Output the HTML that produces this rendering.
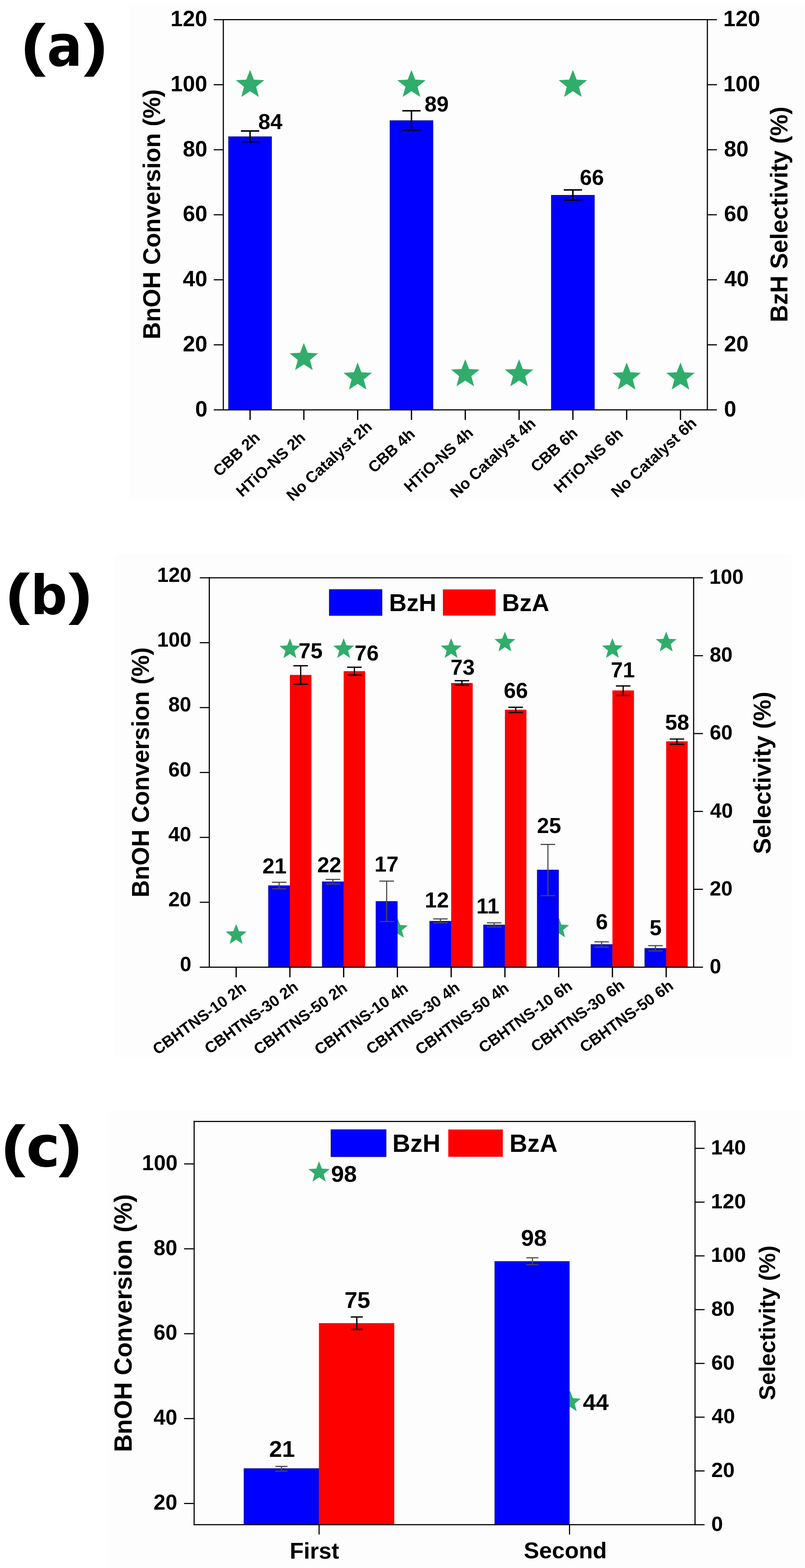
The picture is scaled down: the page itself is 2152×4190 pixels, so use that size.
<!DOCTYPE html>
<html><head><meta charset="utf-8"><title>Figure</title>
<style>html,body{margin:0;padding:0;background:#fff;} svg{display:block;}</style>
</head><body>
<svg width="2152" height="4190" viewBox="0 0 2152 4190">
<rect x="345" y="8" width="1805" height="1329" fill="#fdfdfd"/>
<rect x="307.5" y="1480" width="1808.5" height="1345" fill="#fdfdfd"/>
<rect x="287" y="2967" width="1865" height="1223" fill="#fdfdfd"/>
<polygon points="668.5,186.77 678.58,212.79 706.45,214.34 684.82,231.97 691.95,258.95 668.5,243.82 645.05,258.95 652.18,231.97 630.55,214.34 658.42,212.79" fill="#30ad6b"/>
<polygon points="812.33,916.59 822.41,942.61 850.28,944.16 828.65,961.79 835.78,988.77 812.33,973.64 788.88,988.77 796.01,961.79 774.38,944.16 802.25,942.61" fill="#30ad6b"/>
<polygon points="956.16,968.72 966.24,994.74 994.11,996.29 972.48,1013.92 979.61,1040.9 956.16,1025.77 932.71,1040.9 939.84,1013.92 918.21,996.29 946.08,994.74" fill="#30ad6b"/>
<polygon points="1099.99,186.77 1110.07,212.79 1137.94,214.34 1116.31,231.97 1123.44,258.95 1099.99,243.82 1076.54,258.95 1083.67,231.97 1062.04,214.34 1089.91,212.79" fill="#30ad6b"/>
<polygon points="1243.82,960.03 1253.9,986.05 1281.77,987.6 1260.14,1005.23 1267.27,1032.21 1243.82,1017.09 1220.37,1032.21 1227.5,1005.23 1205.87,987.6 1233.74,986.05" fill="#30ad6b"/>
<polygon points="1387.65,960.03 1397.73,986.05 1425.6,987.6 1403.97,1005.23 1411.1,1032.21 1387.65,1017.09 1364.2,1032.21 1371.33,1005.23 1349.7,987.6 1377.57,986.05" fill="#30ad6b"/>
<polygon points="1531.48,186.77 1541.56,212.79 1569.43,214.34 1547.8,231.97 1554.93,258.95 1531.48,243.82 1508.03,258.95 1515.16,231.97 1493.53,214.34 1521.4,212.79" fill="#30ad6b"/>
<polygon points="1675.31,968.72 1685.39,994.74 1713.26,996.29 1691.63,1013.92 1698.76,1040.9 1675.31,1025.77 1651.86,1040.9 1658.99,1013.92 1637.36,996.29 1665.23,994.74" fill="#30ad6b"/>
<polygon points="1819.14,968.72 1829.22,994.74 1857.09,996.29 1835.46,1013.92 1842.59,1040.9 1819.14,1025.77 1795.69,1040.9 1802.82,1013.92 1781.19,996.29 1809.06,994.74" fill="#30ad6b"/>
<rect x="610.75" y="365" width="115.5" height="730.2" fill="#0000ff" stroke="#22225a" stroke-width="1"/>
<rect x="1042.24" y="322" width="115.5" height="773.2" fill="#0000ff" stroke="#22225a" stroke-width="1"/>
<rect x="1473.73" y="521.5" width="115.5" height="573.7" fill="#0000ff" stroke="#22225a" stroke-width="1"/>
<line x1="668.5" y1="350" x2="668.5" y2="379" stroke="#000" stroke-width="4"/>
<line x1="644.1" y1="350" x2="692.9" y2="350" stroke="#000" stroke-width="4"/>
<line x1="644.1" y1="379" x2="692.9" y2="379" stroke="#000" stroke-width="4"/>
<line x1="1099.99" y1="296" x2="1099.99" y2="347.4" stroke="#000" stroke-width="4"/>
<line x1="1075.59" y1="296" x2="1124.39" y2="296" stroke="#000" stroke-width="4"/>
<line x1="1075.59" y1="347.4" x2="1124.39" y2="347.4" stroke="#000" stroke-width="4"/>
<line x1="1531.48" y1="507.5" x2="1531.48" y2="534.5" stroke="#000" stroke-width="4"/>
<line x1="1507.08" y1="507.5" x2="1555.88" y2="507.5" stroke="#000" stroke-width="4"/>
<line x1="1507.08" y1="534.5" x2="1555.88" y2="534.5" stroke="#000" stroke-width="4"/>
<text x="690.5" y="345" font-size="58" font-family="Liberation Sans, Arial, sans-serif" font-weight="bold">84</text>
<text x="1135.1" y="297.7" font-size="58" font-family="Liberation Sans, Arial, sans-serif" font-weight="bold">89</text>
<text x="1550" y="494" font-size="58" font-family="Liberation Sans, Arial, sans-serif" font-weight="bold">66</text>
<line x1="597" y1="51.1" x2="597" y2="1096.7" stroke="#000" stroke-width="3"/>
<line x1="1891" y1="51.1" x2="1891" y2="1096.7" stroke="#000" stroke-width="3"/>
<line x1="595.5" y1="52.6" x2="1892.5" y2="52.6" stroke="#000" stroke-width="3"/>
<line x1="595.5" y1="1095.2" x2="1892.5" y2="1095.2" stroke="#000" stroke-width="3"/>
<line x1="571.3" y1="1095.2" x2="597" y2="1095.2" stroke="#000" stroke-width="3"/>
<line x1="1891" y1="1095.2" x2="1916.5" y2="1095.2" stroke="#000" stroke-width="3"/>
<text x="521.7" y="1112.7" font-size="59" font-family="Liberation Sans, Arial, sans-serif" font-weight="bold">0</text>
<text x="1935.5" y="1112.7" font-size="59" font-family="Liberation Sans, Arial, sans-serif" font-weight="bold">0</text>
<line x1="571.3" y1="921.43" x2="597" y2="921.43" stroke="#000" stroke-width="3"/>
<line x1="1891" y1="921.43" x2="1916.5" y2="921.43" stroke="#000" stroke-width="3"/>
<text x="488.7" y="938.93" font-size="59" font-family="Liberation Sans, Arial, sans-serif" font-weight="bold">20</text>
<text x="1935.5" y="938.93" font-size="59" font-family="Liberation Sans, Arial, sans-serif" font-weight="bold">20</text>
<line x1="571.3" y1="747.67" x2="597" y2="747.67" stroke="#000" stroke-width="3"/>
<line x1="1891" y1="747.67" x2="1916.5" y2="747.67" stroke="#000" stroke-width="3"/>
<text x="488.7" y="765.17" font-size="59" font-family="Liberation Sans, Arial, sans-serif" font-weight="bold">40</text>
<text x="1936.5" y="765.17" font-size="59" font-family="Liberation Sans, Arial, sans-serif" font-weight="bold">40</text>
<line x1="571.3" y1="573.9" x2="597" y2="573.9" stroke="#000" stroke-width="3"/>
<line x1="1891" y1="573.9" x2="1916.5" y2="573.9" stroke="#000" stroke-width="3"/>
<text x="488.7" y="591.4" font-size="59" font-family="Liberation Sans, Arial, sans-serif" font-weight="bold">60</text>
<text x="1935.5" y="591.4" font-size="59" font-family="Liberation Sans, Arial, sans-serif" font-weight="bold">60</text>
<line x1="571.3" y1="400.13" x2="597" y2="400.13" stroke="#000" stroke-width="3"/>
<line x1="1891" y1="400.13" x2="1916.5" y2="400.13" stroke="#000" stroke-width="3"/>
<text x="488.7" y="417.63" font-size="59" font-family="Liberation Sans, Arial, sans-serif" font-weight="bold">80</text>
<text x="1935.5" y="417.63" font-size="59" font-family="Liberation Sans, Arial, sans-serif" font-weight="bold">80</text>
<line x1="571.3" y1="226.37" x2="597" y2="226.37" stroke="#000" stroke-width="3"/>
<line x1="1891" y1="226.37" x2="1916.5" y2="226.37" stroke="#000" stroke-width="3"/>
<text x="455.7" y="243.87" font-size="59" font-family="Liberation Sans, Arial, sans-serif" font-weight="bold">100</text>
<text x="1933.5" y="243.87" font-size="59" font-family="Liberation Sans, Arial, sans-serif" font-weight="bold">100</text>
<line x1="571.3" y1="52.6" x2="597" y2="52.6" stroke="#000" stroke-width="3"/>
<line x1="1891" y1="52.6" x2="1916.5" y2="52.6" stroke="#000" stroke-width="3"/>
<text x="455.7" y="70.1" font-size="59" font-family="Liberation Sans, Arial, sans-serif" font-weight="bold">120</text>
<text x="1933.5" y="70.1" font-size="59" font-family="Liberation Sans, Arial, sans-serif" font-weight="bold">120</text>
<line x1="668.5" y1="1095.2" x2="668.5" y2="1122" stroke="#000" stroke-width="3.4"/>
<line x1="812.33" y1="1095.2" x2="812.33" y2="1122" stroke="#000" stroke-width="3.4"/>
<line x1="956.16" y1="1095.2" x2="956.16" y2="1122" stroke="#000" stroke-width="3.4"/>
<line x1="1099.99" y1="1095.2" x2="1099.99" y2="1122" stroke="#000" stroke-width="3.4"/>
<line x1="1243.82" y1="1095.2" x2="1243.82" y2="1122" stroke="#000" stroke-width="3.4"/>
<line x1="1387.65" y1="1095.2" x2="1387.65" y2="1122" stroke="#000" stroke-width="3.4"/>
<line x1="1531.48" y1="1095.2" x2="1531.48" y2="1122" stroke="#000" stroke-width="3.4"/>
<line x1="1675.31" y1="1095.2" x2="1675.31" y2="1122" stroke="#000" stroke-width="3.4"/>
<line x1="1819.14" y1="1095.2" x2="1819.14" y2="1122" stroke="#000" stroke-width="3.4"/>
<text transform="translate(697.72,1172.79) rotate(-42.5)" text-anchor="end" font-size="42" font-family="Liberation Sans, Arial, sans-serif" font-weight="bold">CBB 2h</text>
<text transform="translate(819.05,1172.85) rotate(-42.5)" text-anchor="end" font-size="42" font-family="Liberation Sans, Arial, sans-serif" font-weight="bold">HTiO-NS 2h</text>
<text transform="translate(997.08,1143.84) rotate(-42.5)" text-anchor="end" font-size="42" font-family="Liberation Sans, Arial, sans-serif" font-weight="bold">No Catalyst 2h</text>
<text transform="translate(1112.02,1163.29) rotate(-42.5)" text-anchor="end" font-size="42" font-family="Liberation Sans, Arial, sans-serif" font-weight="bold">CBB 4h</text>
<text transform="translate(1267.75,1160.35) rotate(-42.5)" text-anchor="end" font-size="42" font-family="Liberation Sans, Arial, sans-serif" font-weight="bold">HTiO-NS 4h</text>
<text transform="translate(1434.58,1135.34) rotate(-42.5)" text-anchor="end" font-size="42" font-family="Liberation Sans, Arial, sans-serif" font-weight="bold">No Catalyst 4h</text>
<text transform="translate(1546.92,1161.09) rotate(-42.5)" text-anchor="end" font-size="42" font-family="Liberation Sans, Arial, sans-serif" font-weight="bold">CBB 6h</text>
<text transform="translate(1668.25,1162.45) rotate(-42.5)" text-anchor="end" font-size="42" font-family="Liberation Sans, Arial, sans-serif" font-weight="bold">HTiO-NS 6h</text>
<text transform="translate(1864.78,1134.44) rotate(-42.5)" text-anchor="end" font-size="42" font-family="Liberation Sans, Arial, sans-serif" font-weight="bold">No Catalyst 6h</text>
<text transform="translate(427.6,906.8) rotate(-90)" font-size="64" font-family="Liberation Sans, Arial, sans-serif" font-weight="bold">BnOH Conversion (%)</text>
<text transform="translate(2105.4,860.9) rotate(-90)" font-size="64" font-family="Liberation Sans, Arial, sans-serif" font-weight="bold">BzH Selectivity (%)</text>
<text transform="translate(56.66,172.52) scale(0.9839,0.7733)" font-size="200" font-family="Liberation Sans, Arial, sans-serif" font-weight="bold">(</text>
<text transform="translate(125.16,175.51) scale(0.7045,0.7635)" font-size="200" font-family="DejaVu Sans, sans-serif" font-weight="bold">a</text>
<text transform="translate(223.7,172.52) scale(0.9491,0.7733)" font-size="200" font-family="Liberation Sans, Arial, sans-serif" font-weight="bold">)</text>
<polygon points="631.3,2469.2 638.71,2488.31 659.17,2489.45 643.28,2502.39 648.52,2522.2 631.3,2511.1 614.08,2522.2 619.32,2502.39 603.43,2489.45 623.89,2488.31" fill="#30ad6b"/>
<polygon points="775,1705.7 782.41,1724.81 802.87,1725.95 786.98,1738.89 792.22,1758.7 775,1747.6 757.78,1758.7 763.02,1738.89 747.13,1725.95 767.59,1724.81" fill="#30ad6b"/>
<polygon points="918.7,1705.2 926.11,1724.31 946.57,1725.45 930.68,1738.39 935.92,1758.2 918.7,1747.1 901.48,1758.2 906.72,1738.39 890.83,1725.45 911.29,1724.31" fill="#30ad6b"/>
<polygon points="1062.4,2452.7 1069.81,2471.81 1090.27,2472.95 1074.38,2485.89 1079.62,2505.7 1062.4,2494.6 1045.18,2505.7 1050.42,2485.89 1034.53,2472.95 1054.99,2471.81" fill="#30ad6b"/>
<polygon points="1206.1,1705.2 1213.51,1724.31 1233.97,1725.45 1218.08,1738.39 1223.32,1758.2 1206.1,1747.1 1188.88,1758.2 1194.12,1738.39 1178.23,1725.45 1198.69,1724.31" fill="#30ad6b"/>
<polygon points="1349.8,1687.7 1357.21,1706.81 1377.67,1707.95 1361.78,1720.89 1367.02,1740.7 1349.8,1729.6 1332.58,1740.7 1337.82,1720.89 1321.93,1707.95 1342.39,1706.81" fill="#30ad6b"/>
<polygon points="1493.5,2451.7 1500.91,2470.81 1521.37,2471.95 1505.48,2484.89 1510.72,2504.7 1493.5,2493.6 1476.28,2504.7 1481.52,2484.89 1465.63,2471.95 1486.09,2470.81" fill="#30ad6b"/>
<polygon points="1637.2,1704.9 1644.61,1724.01 1665.07,1725.15 1649.18,1738.09 1654.42,1757.9 1637.2,1746.8 1619.98,1757.9 1625.22,1738.09 1609.33,1725.15 1629.79,1724.01" fill="#30ad6b"/>
<polygon points="1780.9,1687.8 1788.31,1706.91 1808.77,1708.05 1792.88,1720.99 1798.12,1740.8 1780.9,1729.7 1763.68,1740.8 1768.92,1720.99 1753.03,1708.05 1773.49,1706.91" fill="#30ad6b"/>
<rect x="717.5" y="2366.5" width="57.5" height="218" fill="#0000ff" stroke="#22225a" stroke-width="1"/>
<rect x="861.2" y="2356" width="57.5" height="228.5" fill="#0000ff" stroke="#22225a" stroke-width="1"/>
<rect x="1004.9" y="2408.5" width="57.5" height="176" fill="#0000ff" stroke="#22225a" stroke-width="1"/>
<rect x="1148.6" y="2461.4" width="57.5" height="123.1" fill="#0000ff" stroke="#22225a" stroke-width="1"/>
<rect x="1292.3" y="2471.3" width="57.5" height="113.2" fill="#0000ff" stroke="#22225a" stroke-width="1"/>
<rect x="1436" y="2324.6" width="57.5" height="259.9" fill="#0000ff" stroke="#22225a" stroke-width="1"/>
<rect x="1579.7" y="2523.7" width="57.5" height="60.8" fill="#0000ff" stroke="#22225a" stroke-width="1"/>
<rect x="1723.4" y="2534" width="57.5" height="50.5" fill="#0000ff" stroke="#22225a" stroke-width="1"/>
<rect x="775" y="1803.5" width="57.5" height="781" fill="#ff0000"/>
<rect x="918.7" y="1793.5" width="57.5" height="791" fill="#ff0000"/>
<rect x="1206.1" y="1825" width="57.5" height="759.5" fill="#ff0000"/>
<rect x="1349.8" y="1896.5" width="57.5" height="688" fill="#ff0000"/>
<rect x="1637.2" y="1845" width="57.5" height="739.5" fill="#ff0000"/>
<rect x="1780.9" y="1981" width="57.5" height="603.5" fill="#ff0000"/>
<line x1="746.25" y1="2357.5" x2="746.25" y2="2375" stroke="#4a4a4a" stroke-width="3"/>
<line x1="726.85" y1="2357.5" x2="765.65" y2="2357.5" stroke="#4a4a4a" stroke-width="3"/>
<line x1="726.85" y1="2375" x2="765.65" y2="2375" stroke="#4a4a4a" stroke-width="3"/>
<line x1="889.95" y1="2350" x2="889.95" y2="2362.5" stroke="#4a4a4a" stroke-width="3"/>
<line x1="870.55" y1="2350" x2="909.35" y2="2350" stroke="#4a4a4a" stroke-width="3"/>
<line x1="870.55" y1="2362.5" x2="909.35" y2="2362.5" stroke="#4a4a4a" stroke-width="3"/>
<line x1="1033.65" y1="2354.5" x2="1033.65" y2="2462.5" stroke="#4a4a4a" stroke-width="3"/>
<line x1="1014.25" y1="2354.5" x2="1053.05" y2="2354.5" stroke="#4a4a4a" stroke-width="3"/>
<line x1="1014.25" y1="2462.5" x2="1053.05" y2="2462.5" stroke="#4a4a4a" stroke-width="3"/>
<line x1="1177.35" y1="2455.6" x2="1177.35" y2="2466" stroke="#4a4a4a" stroke-width="3"/>
<line x1="1157.95" y1="2455.6" x2="1196.75" y2="2455.6" stroke="#4a4a4a" stroke-width="3"/>
<line x1="1157.95" y1="2466" x2="1196.75" y2="2466" stroke="#4a4a4a" stroke-width="3"/>
<line x1="1321.05" y1="2466" x2="1321.05" y2="2477" stroke="#4a4a4a" stroke-width="3"/>
<line x1="1301.65" y1="2466" x2="1340.45" y2="2466" stroke="#4a4a4a" stroke-width="3"/>
<line x1="1301.65" y1="2477" x2="1340.45" y2="2477" stroke="#4a4a4a" stroke-width="3"/>
<line x1="1464.75" y1="2256.5" x2="1464.75" y2="2393.3" stroke="#4a4a4a" stroke-width="3"/>
<line x1="1445.35" y1="2256.5" x2="1484.15" y2="2256.5" stroke="#4a4a4a" stroke-width="3"/>
<line x1="1445.35" y1="2393.3" x2="1484.15" y2="2393.3" stroke="#4a4a4a" stroke-width="3"/>
<line x1="1608.45" y1="2516.7" x2="1608.45" y2="2531" stroke="#4a4a4a" stroke-width="3"/>
<line x1="1589.05" y1="2516.7" x2="1627.85" y2="2516.7" stroke="#4a4a4a" stroke-width="3"/>
<line x1="1589.05" y1="2531" x2="1627.85" y2="2531" stroke="#4a4a4a" stroke-width="3"/>
<line x1="1752.15" y1="2527" x2="1752.15" y2="2541" stroke="#4a4a4a" stroke-width="3"/>
<line x1="1732.75" y1="2527" x2="1771.55" y2="2527" stroke="#4a4a4a" stroke-width="3"/>
<line x1="1732.75" y1="2541" x2="1771.55" y2="2541" stroke="#4a4a4a" stroke-width="3"/>
<line x1="803.75" y1="1779" x2="803.75" y2="1828.5" stroke="#000" stroke-width="3.3"/>
<line x1="784.35" y1="1779" x2="823.15" y2="1779" stroke="#000" stroke-width="3.3"/>
<line x1="784.35" y1="1828.5" x2="823.15" y2="1828.5" stroke="#000" stroke-width="3.3"/>
<line x1="947.45" y1="1783" x2="947.45" y2="1804" stroke="#000" stroke-width="3.3"/>
<line x1="928.05" y1="1783" x2="966.85" y2="1783" stroke="#000" stroke-width="3.3"/>
<line x1="928.05" y1="1804" x2="966.85" y2="1804" stroke="#000" stroke-width="3.3"/>
<line x1="1234.85" y1="1819" x2="1234.85" y2="1831" stroke="#000" stroke-width="3.3"/>
<line x1="1215.45" y1="1819" x2="1254.25" y2="1819" stroke="#000" stroke-width="3.3"/>
<line x1="1215.45" y1="1831" x2="1254.25" y2="1831" stroke="#000" stroke-width="3.3"/>
<line x1="1378.55" y1="1890" x2="1378.55" y2="1904" stroke="#000" stroke-width="3.3"/>
<line x1="1359.15" y1="1890" x2="1397.95" y2="1890" stroke="#000" stroke-width="3.3"/>
<line x1="1359.15" y1="1904" x2="1397.95" y2="1904" stroke="#000" stroke-width="3.3"/>
<line x1="1665.95" y1="1833" x2="1665.95" y2="1858.4" stroke="#000" stroke-width="3.3"/>
<line x1="1646.55" y1="1833" x2="1685.35" y2="1833" stroke="#000" stroke-width="3.3"/>
<line x1="1646.55" y1="1858.4" x2="1685.35" y2="1858.4" stroke="#000" stroke-width="3.3"/>
<line x1="1809.65" y1="1974.8" x2="1809.65" y2="1989" stroke="#000" stroke-width="3.3"/>
<line x1="1790.25" y1="1974.8" x2="1829.05" y2="1974.8" stroke="#000" stroke-width="3.3"/>
<line x1="1790.25" y1="1989" x2="1829.05" y2="1989" stroke="#000" stroke-width="3.3"/>
<text x="701.5" y="2334" font-size="58" font-family="Liberation Sans, Arial, sans-serif" font-weight="bold">21</text>
<text x="848" y="2331" font-size="58" font-family="Liberation Sans, Arial, sans-serif" font-weight="bold">22</text>
<text x="1001" y="2329" font-size="58" font-family="Liberation Sans, Arial, sans-serif" font-weight="bold">17</text>
<text x="1135.6" y="2424.7" font-size="58" font-family="Liberation Sans, Arial, sans-serif" font-weight="bold">12</text>
<text x="1273.5" y="2441" font-size="58" font-family="Liberation Sans, Arial, sans-serif" font-weight="bold">11</text>
<text x="1435.6" y="2226.4" font-size="58" font-family="Liberation Sans, Arial, sans-serif" font-weight="bold">25</text>
<text x="1592.8" y="2482.5" font-size="58" font-family="Liberation Sans, Arial, sans-serif" font-weight="bold">6</text>
<text x="1736.5" y="2499.4" font-size="58" font-family="Liberation Sans, Arial, sans-serif" font-weight="bold">5</text>
<text x="798" y="1759" font-size="58" font-family="Liberation Sans, Arial, sans-serif" font-weight="bold">75</text>
<text x="948" y="1765" font-size="58" font-family="Liberation Sans, Arial, sans-serif" font-weight="bold">76</text>
<text x="1204.5" y="1802.5" font-size="58" font-family="Liberation Sans, Arial, sans-serif" font-weight="bold">73</text>
<text x="1346.7" y="1865.1" font-size="58" font-family="Liberation Sans, Arial, sans-serif" font-weight="bold">66</text>
<text x="1632.7" y="1810.3" font-size="58" font-family="Liberation Sans, Arial, sans-serif" font-weight="bold">71</text>
<text x="1778" y="1949.7" font-size="58" font-family="Liberation Sans, Arial, sans-serif" font-weight="bold">58</text>
<rect x="880" y="1575" width="141.5" height="70" fill="#0000ff" stroke="#22225a" stroke-width="1"/>
<text x="1040" y="1632.5" font-size="65" font-family="Liberation Sans, Arial, sans-serif" font-weight="bold">BzH</text>
<rect x="1184" y="1575" width="141" height="70" fill="#ff0000"/>
<text x="1342" y="1632.5" font-size="65" font-family="Liberation Sans, Arial, sans-serif" font-weight="bold">BzA</text>
<line x1="559.5" y1="1542.5" x2="559.5" y2="2586" stroke="#000" stroke-width="3"/>
<line x1="1854.3" y1="1542.5" x2="1854.3" y2="2586" stroke="#000" stroke-width="3"/>
<line x1="558" y1="1544" x2="1855.8" y2="1544" stroke="#000" stroke-width="3"/>
<line x1="558" y1="2584.5" x2="1855.8" y2="2584.5" stroke="#000" stroke-width="3"/>
<line x1="534" y1="2584.5" x2="559.5" y2="2584.5" stroke="#000" stroke-width="3"/>
<text x="480.9" y="2595" font-size="55" font-family="Liberation Sans, Arial, sans-serif" font-weight="bold">0</text>
<line x1="534" y1="2411.08" x2="559.5" y2="2411.08" stroke="#000" stroke-width="3"/>
<text x="449.9" y="2421.58" font-size="55" font-family="Liberation Sans, Arial, sans-serif" font-weight="bold">20</text>
<line x1="534" y1="2237.67" x2="559.5" y2="2237.67" stroke="#000" stroke-width="3"/>
<text x="449.9" y="2248.17" font-size="55" font-family="Liberation Sans, Arial, sans-serif" font-weight="bold">40</text>
<line x1="534" y1="2064.25" x2="559.5" y2="2064.25" stroke="#000" stroke-width="3"/>
<text x="449.9" y="2074.75" font-size="55" font-family="Liberation Sans, Arial, sans-serif" font-weight="bold">60</text>
<line x1="534" y1="1890.83" x2="559.5" y2="1890.83" stroke="#000" stroke-width="3"/>
<text x="449.9" y="1901.33" font-size="55" font-family="Liberation Sans, Arial, sans-serif" font-weight="bold">80</text>
<line x1="534" y1="1717.42" x2="559.5" y2="1717.42" stroke="#000" stroke-width="3"/>
<text x="419.9" y="1727.92" font-size="55" font-family="Liberation Sans, Arial, sans-serif" font-weight="bold">100</text>
<line x1="534" y1="1544" x2="559.5" y2="1544" stroke="#000" stroke-width="3"/>
<text x="419.9" y="1554.5" font-size="55" font-family="Liberation Sans, Arial, sans-serif" font-weight="bold">120</text>
<line x1="1854.3" y1="2584.5" x2="1879.2" y2="2584.5" stroke="#000" stroke-width="3"/>
<text x="1897.2" y="2600.7" font-size="55" font-family="Liberation Sans, Arial, sans-serif" font-weight="bold">0</text>
<line x1="1854.3" y1="2376.4" x2="1879.2" y2="2376.4" stroke="#000" stroke-width="3"/>
<text x="1897.2" y="2392.6" font-size="55" font-family="Liberation Sans, Arial, sans-serif" font-weight="bold">20</text>
<line x1="1854.3" y1="2168.3" x2="1879.2" y2="2168.3" stroke="#000" stroke-width="3"/>
<text x="1898.2" y="2184.5" font-size="55" font-family="Liberation Sans, Arial, sans-serif" font-weight="bold">40</text>
<line x1="1854.3" y1="1960.2" x2="1879.2" y2="1960.2" stroke="#000" stroke-width="3"/>
<text x="1897.2" y="1976.4" font-size="55" font-family="Liberation Sans, Arial, sans-serif" font-weight="bold">60</text>
<line x1="1854.3" y1="1752.1" x2="1879.2" y2="1752.1" stroke="#000" stroke-width="3"/>
<text x="1897.2" y="1768.3" font-size="55" font-family="Liberation Sans, Arial, sans-serif" font-weight="bold">80</text>
<line x1="1854.3" y1="1544" x2="1879.2" y2="1544" stroke="#000" stroke-width="3"/>
<text x="1896.2" y="1560.2" font-size="55" font-family="Liberation Sans, Arial, sans-serif" font-weight="bold">100</text>
<line x1="631.3" y1="2584.5" x2="631.3" y2="2611.5" stroke="#000" stroke-width="3.4"/>
<line x1="775" y1="2584.5" x2="775" y2="2611.5" stroke="#000" stroke-width="3.4"/>
<line x1="918.7" y1="2584.5" x2="918.7" y2="2611.5" stroke="#000" stroke-width="3.4"/>
<line x1="1062.4" y1="2584.5" x2="1062.4" y2="2611.5" stroke="#000" stroke-width="3.4"/>
<line x1="1206.1" y1="2584.5" x2="1206.1" y2="2611.5" stroke="#000" stroke-width="3.4"/>
<line x1="1349.8" y1="2584.5" x2="1349.8" y2="2611.5" stroke="#000" stroke-width="3.4"/>
<line x1="1493.5" y1="2584.5" x2="1493.5" y2="2611.5" stroke="#000" stroke-width="3.4"/>
<line x1="1637.2" y1="2584.5" x2="1637.2" y2="2611.5" stroke="#000" stroke-width="3.4"/>
<line x1="1780.9" y1="2584.5" x2="1780.9" y2="2611.5" stroke="#000" stroke-width="3.4"/>
<text transform="translate(661.17,2645.91) rotate(-36)" text-anchor="end" font-size="42" font-family="Liberation Sans, Arial, sans-serif" font-weight="bold">CBHTNS-10 2h</text>
<text transform="translate(799.97,2643.51) rotate(-36)" text-anchor="end" font-size="42" font-family="Liberation Sans, Arial, sans-serif" font-weight="bold">CBHTNS-30 2h</text>
<text transform="translate(931.17,2645.91) rotate(-36)" text-anchor="end" font-size="42" font-family="Liberation Sans, Arial, sans-serif" font-weight="bold">CBHTNS-50 2h</text>
<text transform="translate(1093.77,2646.61) rotate(-36)" text-anchor="end" font-size="42" font-family="Liberation Sans, Arial, sans-serif" font-weight="bold">CBHTNS-10 4h</text>
<text transform="translate(1232.07,2645.11) rotate(-36)" text-anchor="end" font-size="42" font-family="Liberation Sans, Arial, sans-serif" font-weight="bold">CBHTNS-30 4h</text>
<text transform="translate(1363.37,2646.41) rotate(-36)" text-anchor="end" font-size="42" font-family="Liberation Sans, Arial, sans-serif" font-weight="bold">CBHTNS-50 4h</text>
<text transform="translate(1532.77,2641.31) rotate(-36)" text-anchor="end" font-size="42" font-family="Liberation Sans, Arial, sans-serif" font-weight="bold">CBHTNS-10 6h</text>
<text transform="translate(1672.47,2638.61) rotate(-36)" text-anchor="end" font-size="42" font-family="Liberation Sans, Arial, sans-serif" font-weight="bold">CBHTNS-30 6h</text>
<text transform="translate(1803.07,2640.11) rotate(-36)" text-anchor="end" font-size="42" font-family="Liberation Sans, Arial, sans-serif" font-weight="bold">CBHTNS-50 6h</text>
<text transform="translate(398.3,2398.1) rotate(-90)" font-size="64" font-family="Liberation Sans, Arial, sans-serif" font-weight="bold">BnOH Conversion (%)</text>
<text transform="translate(2059.7,2282.2) rotate(-90)" font-size="64" font-family="Liberation Sans, Arial, sans-serif" font-weight="bold">Selectivity (%)</text>
<text transform="translate(15.76,1639.02) scale(0.9643,0.7471)" font-size="200" font-family="Liberation Sans, Arial, sans-serif" font-weight="bold">(</text>
<text transform="translate(81.42,1640.73) scale(0.6872,0.7239)" font-size="200" font-family="DejaVu Sans, sans-serif" font-weight="bold">b</text>
<text transform="translate(183,1639.02) scale(0.9474,0.7471)" font-size="200" font-family="Liberation Sans, Arial, sans-serif" font-weight="bold">)</text>
<polygon points="853,3103.2 860.58,3122.76 881.53,3123.93 865.27,3137.19 870.63,3157.47 853,3146.1 835.37,3157.47 840.73,3137.19 824.47,3123.93 845.42,3122.76" fill="#30ad6b"/>
<polygon points="1524,3716.7 1531.58,3736.26 1552.53,3737.43 1536.27,3750.69 1541.63,3770.97 1524,3759.6 1506.37,3770.97 1511.73,3750.69 1495.47,3737.43 1516.42,3736.26" fill="#30ad6b"/>
<rect x="652" y="3924" width="200.6" height="150.3" fill="#0000ff" stroke="#22225a" stroke-width="1"/>
<rect x="852.6" y="3535.7" width="201.4" height="538.6" fill="#ff0000"/>
<rect x="1322.4" y="3370.7" width="199.8" height="703.6" fill="#0000ff" stroke="#22225a" stroke-width="1"/>
<line x1="752.5" y1="3918.5" x2="752.5" y2="3931" stroke="#4a4a4a" stroke-width="3"/>
<line x1="736.5" y1="3918.5" x2="768.5" y2="3918.5" stroke="#4a4a4a" stroke-width="3"/>
<line x1="736.5" y1="3931" x2="768.5" y2="3931" stroke="#4a4a4a" stroke-width="3"/>
<line x1="953.8" y1="3519.2" x2="953.8" y2="3552.4" stroke="#000" stroke-width="3.5"/>
<line x1="937.7" y1="3519.2" x2="969.9" y2="3519.2" stroke="#000" stroke-width="3.5"/>
<line x1="937.7" y1="3552.4" x2="969.9" y2="3552.4" stroke="#000" stroke-width="3.5"/>
<line x1="1423.3" y1="3361" x2="1423.3" y2="3379.6" stroke="#4a4a4a" stroke-width="3"/>
<line x1="1407.3" y1="3361" x2="1439.3" y2="3361" stroke="#4a4a4a" stroke-width="3"/>
<line x1="1407.3" y1="3379.6" x2="1439.3" y2="3379.6" stroke="#4a4a4a" stroke-width="3"/>
<text x="719.6" y="3892.6" font-size="62" font-family="Liberation Sans, Arial, sans-serif" font-weight="bold">21</text>
<text x="920.9" y="3495" font-size="62" font-family="Liberation Sans, Arial, sans-serif" font-weight="bold">75</text>
<text x="1392.8" y="3329" font-size="62" font-family="Liberation Sans, Arial, sans-serif" font-weight="bold">98</text>
<text x="885" y="3157.7" font-size="62" font-family="Liberation Sans, Arial, sans-serif" font-weight="bold">98</text>
<text x="1558.2" y="3768.1" font-size="62" font-family="Liberation Sans, Arial, sans-serif" font-weight="bold">44</text>
<rect x="884.4" y="3018.3" width="148" height="72.9" fill="#0000ff" stroke="#22225a" stroke-width="1"/>
<text x="1049" y="3078.2" font-size="66" font-family="Liberation Sans, Arial, sans-serif" font-weight="bold">BzH</text>
<rect x="1198.4" y="3018.3" width="145.8" height="72.9" fill="#ff0000"/>
<text x="1362" y="3078.2" font-size="66" font-family="Liberation Sans, Arial, sans-serif" font-weight="bold">BzA</text>
<line x1="519" y1="2995.3" x2="519" y2="4075.8" stroke="#000" stroke-width="3"/>
<line x1="1858" y1="2995.3" x2="1858" y2="4075.8" stroke="#000" stroke-width="3"/>
<line x1="517.5" y1="2996.8" x2="1859.5" y2="2996.8" stroke="#000" stroke-width="3"/>
<line x1="517.5" y1="4074.3" x2="1859.5" y2="4074.3" stroke="#000" stroke-width="3"/>
<line x1="492.1" y1="4017.59" x2="519" y2="4017.59" stroke="#000" stroke-width="3"/>
<text x="410.5" y="4034.09" font-size="57" font-family="Liberation Sans, Arial, sans-serif" font-weight="bold">20</text>
<line x1="492.1" y1="3790.75" x2="519" y2="3790.75" stroke="#000" stroke-width="3"/>
<text x="410.5" y="3807.25" font-size="57" font-family="Liberation Sans, Arial, sans-serif" font-weight="bold">40</text>
<line x1="492.1" y1="3563.91" x2="519" y2="3563.91" stroke="#000" stroke-width="3"/>
<text x="410.5" y="3580.41" font-size="57" font-family="Liberation Sans, Arial, sans-serif" font-weight="bold">60</text>
<line x1="492.1" y1="3337.06" x2="519" y2="3337.06" stroke="#000" stroke-width="3"/>
<text x="410.5" y="3353.56" font-size="57" font-family="Liberation Sans, Arial, sans-serif" font-weight="bold">80</text>
<line x1="492.1" y1="3110.22" x2="519" y2="3110.22" stroke="#000" stroke-width="3"/>
<text x="379.5" y="3126.72" font-size="57" font-family="Liberation Sans, Arial, sans-serif" font-weight="bold">100</text>
<line x1="1858" y1="4074.3" x2="1883.5" y2="4074.3" stroke="#000" stroke-width="3"/>
<text x="1901.6" y="4090.8" font-size="56" font-family="Liberation Sans, Arial, sans-serif" font-weight="bold">0</text>
<line x1="1858" y1="3930.63" x2="1883.5" y2="3930.63" stroke="#000" stroke-width="3"/>
<text x="1901.6" y="3947.13" font-size="56" font-family="Liberation Sans, Arial, sans-serif" font-weight="bold">20</text>
<line x1="1858" y1="3786.97" x2="1883.5" y2="3786.97" stroke="#000" stroke-width="3"/>
<text x="1902.6" y="3803.47" font-size="56" font-family="Liberation Sans, Arial, sans-serif" font-weight="bold">40</text>
<line x1="1858" y1="3643.3" x2="1883.5" y2="3643.3" stroke="#000" stroke-width="3"/>
<text x="1901.6" y="3659.8" font-size="56" font-family="Liberation Sans, Arial, sans-serif" font-weight="bold">60</text>
<line x1="1858" y1="3499.63" x2="1883.5" y2="3499.63" stroke="#000" stroke-width="3"/>
<text x="1901.6" y="3516.13" font-size="56" font-family="Liberation Sans, Arial, sans-serif" font-weight="bold">80</text>
<line x1="1858" y1="3355.97" x2="1883.5" y2="3355.97" stroke="#000" stroke-width="3"/>
<text x="1900.6" y="3372.47" font-size="56" font-family="Liberation Sans, Arial, sans-serif" font-weight="bold">100</text>
<line x1="1858" y1="3212.3" x2="1883.5" y2="3212.3" stroke="#000" stroke-width="3"/>
<text x="1900.6" y="3228.8" font-size="56" font-family="Liberation Sans, Arial, sans-serif" font-weight="bold">120</text>
<line x1="1858" y1="3068.63" x2="1883.5" y2="3068.63" stroke="#000" stroke-width="3"/>
<text x="1900.6" y="3085.13" font-size="56" font-family="Liberation Sans, Arial, sans-serif" font-weight="bold">140</text>
<line x1="853" y1="4074.3" x2="853" y2="4100.5" stroke="#000" stroke-width="3"/>
<line x1="1522.5" y1="4074.3" x2="1522.5" y2="4100.5" stroke="#000" stroke-width="3"/>
<text x="774.4" y="4164.6" font-size="61" font-family="Liberation Sans, Arial, sans-serif" font-weight="bold">First</text>
<text x="1400.3" y="4163.6" font-size="61.5" font-family="Liberation Sans, Arial, sans-serif" font-weight="bold">Second</text>
<text transform="translate(351.9,3880.3) rotate(-90)" font-size="66" font-family="Liberation Sans, Arial, sans-serif" font-weight="bold">BnOH Conversion (%)</text>
<text transform="translate(2072,3741.7) rotate(-90)" font-size="61" font-family="Liberation Sans, Arial, sans-serif" font-weight="bold">Selectivity (%)</text>
<text transform="translate(4.17,3114.25) scale(0.9625,0.7583)" font-size="200" font-family="Liberation Sans, Arial, sans-serif" font-weight="bold">(</text>
<text transform="translate(70.09,3117.44) scale(0.7639,0.7548)" font-size="200" font-family="DejaVu Sans, sans-serif" font-weight="bold">c</text>
<text transform="translate(156.6,3114.25) scale(0.9281,0.7583)" font-size="200" font-family="Liberation Sans, Arial, sans-serif" font-weight="bold">)</text>
</svg>
</body></html>
